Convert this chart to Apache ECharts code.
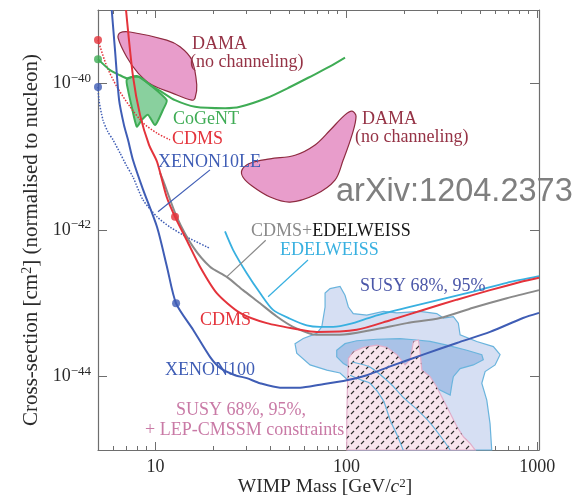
<!DOCTYPE html>
<html lang="en">
<head>
<meta charset="UTF-8" />
<title>WIMP limits</title>
<script src="https://cdn.jsdelivr.net/npm/echarts@6/dist/echarts.min.js"></script>
<style>
  * { padding: 0; margin: 0; }
  body { background: #fff; }
</style>
</head>
<body>
<div id="main" style="width:572px;height:496px"></div>
<script>
// every point is [WIMP mass in GeV/c^2, log10 of cross-section in cm^2]
var cdmsLimit = [[7.01,-39.00],[7.63,-39.91],[8.30,-40.43],[9.25,-40.84],[10.19,-41.07],[11.45,-41.55],[12.66,-41.82],[14.59,-42.14],[17.11,-42.50],[20.94,-42.86],[27.72,-43.13],[38.27,-43.27],[57.18,-43.36],[69.9,-43.39],[113.3,-43.36],[169.4,-43.23],[252.2,-43.09],[378.8,-42.95],[565.2,-42.82],[841.4,-42.70],[1020,-42.65]]
var cdmsLowE = [[5.0,-39.41],[5.58,-39.78],[6.29,-40.05],[7.36,-40.32],[8.61,-40.54],[10.19,-40.68],[11.92,-40.77]]
var cogentLimit = [[5.0,-39.67],[5.78,-39.82],[6.52,-39.89],[7.10,-39.93],[7.63,-39.91],[8.11,-39.91],[9.36,-40.02],[10.82,-40.12],[12.66,-40.23],[16.12,-40.32],[23.13,-40.34],[27.72,-40.32],[38.27,-40.20],[50.69,-40.05],[66.85,-39.89],[82.07,-39.77],[98.31,-39.65]]
var cogentRegion = [[7.07,-39.95],[7.98,-39.90],[9.36,-40.02],[11.45,-40.23],[10.95,-40.36],[9.95,-40.57],[9.14,-40.43],[8.47,-40.50],[7.98,-40.59],[7.51,-40.32],[7.18,-40.09]]
var damaLow = [[6.52,-39.31],[7.36,-39.30],[11.45,-39.41],[13.45,-39.50],[15.49,-39.68],[16.45,-40.02],[16.12,-40.20],[15.49,-40.23],[12.16,-40.13],[9.56,-40.02],[8.11,-39.86],[7.07,-39.64],[6.37,-39.38]]
var damaHigh = [[28.4,-41.18],[31.27,-41.09],[39.84,-41.03],[53.80,-40.98],[68.50,-40.84],[82.07,-40.64],[98.31,-40.43],[107.1,-40.38],[112.3,-40.45],[107.1,-40.70],[96.07,-41.05],[87.1,-41.32],[68.50,-41.52],[50.69,-41.62],[39.84,-41.55],[32.06,-41.40],[28.74,-41.28]]
var xenon10LE = [[5.0,-40.05],[5.06,-40.23],[5.31,-40.50],[5.63,-40.66],[5.99,-40.77],[6.52,-40.95],[7.01,-41.11],[7.63,-41.28],[8.61,-41.59],[10.19,-41.82],[11.92,-41.96],[14.7,-42.10],[19.30,-42.25]]
var xenon100 = [[5.90,-39.00],[6.14,-39.55],[6.45,-40.23],[6.84,-40.57],[7.18,-40.77],[7.63,-41.05],[8.61,-41.45],[10.19,-41.96],[11.48,-42.50],[12.82,-43.00],[15.74,-43.36],[19.30,-43.73],[21.8,-43.88],[26.1,-43.98],[30.06,-44.02],[35.30,-44.09],[44.92,-44.15],[57.18,-44.15],[72.77,-44.11],[100.4,-44.05],[127.9,-43.98],[169.4,-43.86],[252.2,-43.70],[378.8,-43.54],[565.2,-43.39],[841.4,-43.20],[1020,-43.13]]
var cdmsEdelweiss = [[10.56,-41.22],[10.95,-41.32],[12.92,-41.82],[15.74,-42.23],[19.30,-42.50],[23.61,-42.64],[28.74,-42.82],[35.30,-43.00],[43.18,-43.18],[52.53,-43.32],[69.91,-43.43],[92.61,-43.43],[138.0,-43.36],[207.2,-43.27],[309.4,-43.20],[460.5,-43.06],[691.8,-42.93],[1020,-42.82]]
var edelweiss = [[23.13,-42.02],[25.48,-42.27],[30.06,-42.59],[35.30,-42.86],[41.30,-43.09],[50.69,-43.21],[61.99,-43.30],[72.77,-43.32],[85.16,-43.32],[104.5,-43.28],[138.0,-43.18],[207.2,-43.06],[309.4,-42.95],[460.5,-42.84],[691.8,-42.72],[1020,-42.63]]
var susy95 = [[53.80,-43.55],[59.4,-43.48],[69.91,-43.41],[74.3,-43.32],[77.3,-43.05],[77.3,-42.86],[82.07,-42.80],[92.61,-42.77],[98.31,-42.89],[102.4,-43.05],[108.6,-43.14],[127.9,-43.16],[156.3,-43.11],[183.6,-43.13],[243.0,-43.11],[297.2,-43.14],[322,-43.20],[363,-43.18],[385.5,-43.27],[393.9,-43.43],[481.6,-43.52],[588.4,-43.59],[637.8,-43.70],[600.8,-43.84],[532.6,-43.93],[511.6,-44.09],[543.4,-44.32],[565.2,-44.64],[576.8,-45.0],[102.0,-45.0],[102.0,-44.05],[92.61,-43.95],[78.95,-43.91],[64.51,-43.84],[54.93,-43.68]]
var susy68 = [[88.97,-43.64],[98.31,-43.55],[113.3,-43.51],[144.3,-43.49],[190.8,-43.48],[233.5,-43.50],[274.3,-43.52],[335.8,-43.57],[427.2,-43.64],[511.6,-43.70],[521,-43.77],[462,-43.84],[393.9,-43.89],[363,-44.00],[356.5,-44.11],[349.5,-44.25],[243.0,-44.05],[150.1,-43.94],[104.5,-43.87],[96.4,-43.82],[88.97,-43.73]]
var susyLep = [[100.4,-45.0],[100.4,-44.59],[101.2,-44.14],[102.4,-43.75],[108.6,-43.66],[122.7,-43.60],[144.3,-43.57],[162.6,-43.60],[183.6,-43.70],[202.9,-43.84],[215.5,-43.77],[224.5,-43.52],[238.5,-43.50],[243.0,-43.66],[248.3,-43.91],[274.3,-44.00],[297.2,-44.14],[322,-44.32],[349.5,-44.50],[378.8,-44.68],[410,-44.82],[444.4,-44.91],[472,-45.0]]
var contourA = [[107.1,-43.80],[133.0,-43.87],[169.4,-44.09],[198.2,-44.28],[234.5,-44.45],[274.3,-44.63],[320.9,-44.86],[349.5,-45.0]]
var contourB = [[104.5,-43.98],[120.7,-44.05],[133.0,-44.09],[155.6,-44.32],[169.4,-44.59],[184.5,-44.80],[198.2,-45.0]]
var pointerXenon10 = [[19.30,-41.18],[10.31,-41.75]]
var pointerCdmsEdel = [[37.79,-42.14],[23.61,-42.64]]
var pointerEdel = [[62.9,-42.41],[38.88,-42.91]]
var cdmsDots = [[5,-39.41],[12.66,-41.82]]
var cogentDots = [[5,-39.67]]
var xenonDots = [[5,-40.05],[12.82,-43.00]]

var xMinorTicks = [5,6,7,8,9,10,20,30,40,50,60,70,80,90,100,200,300,400,500,600,700,800,900,1000]
var xMajorTicks = [10,100,1000]
var yMajorTicks = [-40,-42,-44]   // exponents of 10 cm^2

var SERIF = '"Liberation Serif", "DejaVu Serif", serif'
var AX = '#6e6e6e'
var RED = '#e4333b', GREEN = '#3fac55', BLUE = '#3f5db5', LBLUE = '#38b0e0', GRAY = '#8a8a8a'
var DAMA_TXT = '#953245', PINK_TXT = '#c97aa6', SUSY_TXT = '#4a56a8'

function lineSeries(arr, color, width, type, smooth) {
  return {
    type: 'line', data: arr, symbol: 'none', silent: true, z: 5,
    smooth: smooth === undefined ? 0.25 : smooth,
    lineStyle: { color: color, width: width, type: type || 'solid' }
  }
}

function areaSeries(arr, style, smooth, z, extra) {
  return {
    type: 'custom', silent: true, z: z, data: arr, clip: false,
    renderItem: function (params, api) {
      if (params.dataIndex !== 0) return null
      var px = arr.map(function (p) { return api.coord(p) })
      var shape = { type: 'polygon', shape: { points: px, smooth: smooth }, style: style }
      if (!extra) return shape
      return { type: 'group', children: [shape, { type: 'polygon', shape: { points: px, smooth: smooth }, style: extra }] }
    }
  }
}

function dotSeries(arr, color) {
  return { type: 'scatter', data: arr, symbolSize: 8, clip: false, silent: true, z: 10, itemStyle: { color: color } }
}

function label(txt, x, y, color) {
  return { type: 'text', x: x, y: y, z: 100, silent: true,
    style: { text: txt, fill: color, fontSize: 18, fontFamily: SERIF, textVerticalAlign: 'middle' } }
}

// little dashes for the hatched SUSY + LEP region
var hatch = document.createElement('canvas')
hatch.width = 10; hatch.height = 10
var hc = hatch.getContext('2d')
hc.strokeStyle = '#2a2a2a'; hc.lineWidth = 1.1
hc.beginPath(); hc.moveTo(1, 4); hc.lineTo(4, 1); hc.moveTo(6, 9); hc.lineTo(9, 6); hc.stroke()

var supRich = function (size, sup, padTop) {
  return {
    a: { fontSize: size, fontFamily: SERIF, color: '#2a2a2a', fill: '#2a2a2a', lineHeight: size, padding: [padTop, 0, 0, 0], verticalAlign: 'bottom' },
    b: { fontSize: sup, fontFamily: SERIF, color: '#2a2a2a', fill: '#2a2a2a', lineHeight: sup, verticalAlign: 'top' },
    i: { fontSize: size, fontFamily: SERIF, fontStyle: 'italic', color: '#2a2a2a', fill: '#2a2a2a', lineHeight: size, padding: [padTop, 0, 0, 0], verticalAlign: 'bottom' }
  }
}

var logX = { type: 'log', min: 5, max: 1020, splitLine: { show: false } }
var expY = { type: 'value', min: -45, max: -39, splitLine: { show: false } }

var option = {
  animation: false,
  backgroundColor: '#fff',
  textStyle: { fontFamily: SERIF },
  grid: { left: 98, top: 10, width: 441, height: 440 },
  xAxis: [
    Object.assign({}, logX, {
      position: 'bottom',
      axisLine: { show: true, onZero: false, lineStyle: { color: AX, width: 1.2 } },
      axisTick: { show: true, inside: true, length: 4, customValues: xMinorTicks, lineStyle: { color: AX } },
      axisLabel: { customValues: xMajorTicks, fontFamily: SERIF, fontSize: 18, color: '#2a2a2a', margin: 8,
        formatter: function (v) { return String(Math.round(v)) } }
    }),
    Object.assign({}, logX, {
      position: 'bottom', axisLine: { show: false },
      axisTick: { show: true, inside: true, length: 8, customValues: xMajorTicks, lineStyle: { color: AX } },
      axisLabel: { show: false }
    }),
    Object.assign({}, logX, {
      position: 'top',
      axisLine: { show: true, onZero: false, lineStyle: { color: AX, width: 1.2 } },
      axisTick: { show: true, inside: true, length: 4, customValues: xMinorTicks, lineStyle: { color: AX } },
      axisLabel: { show: false }
    }),
    Object.assign({}, logX, {
      position: 'top', axisLine: { show: false },
      axisTick: { show: true, inside: true, length: 8, customValues: xMajorTicks, lineStyle: { color: AX } },
      axisLabel: { show: false }
    })
  ],
  yAxis: [
    Object.assign({}, expY, {
      position: 'left',
      axisLine: { show: true, onZero: false, lineStyle: { color: AX, width: 1.2 } },
      axisTick: { show: true, inside: true, length: 9, customValues: yMajorTicks, lineStyle: { color: AX } },
      axisLabel: { customValues: yMajorTicks, margin: 7,
        rich: {
          a: { fontSize: 18, fontFamily: SERIF, color: '#2a2a2a', lineHeight: 18 },
          b: { fontSize: 13, fontFamily: SERIF, color: '#2a2a2a', lineHeight: 13, padding: [0, 0, 10, 0] }
        },
        formatter: function (v) {
          var e = Math.round(v)
          return '{a|10}{b|' + (e < 0 ? '\u2212' : '') + Math.abs(e) + '}'
        } }
    }),
    Object.assign({}, expY, {
      position: 'right',
      axisLine: { show: true, onZero: false, lineStyle: { color: AX, width: 1.2 } },
      axisTick: { show: true, inside: true, length: 9, customValues: yMajorTicks, lineStyle: { color: AX } },
      axisLabel: { show: false }
    })
  ],
  series: [
    areaSeries(susy95, { fill: '#d6dff3', stroke: '#6ab4dd', lineWidth: 1.2 }, 0, 1),
    areaSeries(susy68, { fill: '#a9c2e7', stroke: '#6ab4dd', lineWidth: 1.2 }, 0, 1),
    areaSeries(susyLep, { fill: '#f7e4ed', stroke: '#e2afcb', lineWidth: 1.2 }, 0, 2,
      { fill: { type: 'pattern', image: hatch, repeat: 'repeat' } }),
    lineSeries(contourA, '#6ab4dd', 1.2),
    lineSeries(contourB, '#6ab4dd', 1.2),
    areaSeries(damaLow, { fill: '#e89dcb', stroke: '#8e2b40', lineWidth: 1.2 }, 0.35, 3),
    areaSeries(damaHigh, { fill: '#e89dcb', stroke: '#8e2b40', lineWidth: 1.2 }, 0.35, 3),
    areaSeries(cogentRegion, { fill: 'rgba(108,196,134,0.8)', stroke: GREEN, lineWidth: 2 }, 0.2, 3),
    lineSeries(xenon10LE, BLUE, 1.5, 'dotted'),
    lineSeries(cdmsLowE, RED, 1.5, 'dotted'),
    lineSeries(cogentLimit, GREEN, 2),
    lineSeries(xenon100, BLUE, 2),
    lineSeries(edelweiss, LBLUE, 1.8),
    lineSeries(cdmsEdelweiss, GRAY, 2),
    lineSeries(cdmsLimit, RED, 2),
    lineSeries(pointerXenon10, BLUE, 1.2, 'solid', false),
    lineSeries(pointerCdmsEdel, GRAY, 1.2, 'solid', false),
    lineSeries(pointerEdel, LBLUE, 1.2, 'solid', false),
    dotSeries(cdmsDots, RED),
    dotSeries(cogentDots, GREEN),
    dotSeries(xenonDots, BLUE)
  ],
  graphic: [
    label('DAMA', 192, 44, DAMA_TXT),
    label('(no channeling)', 190, 62, DAMA_TXT),
    label('DAMA', 362, 119, DAMA_TXT),
    label('(no channeling)', 355, 137, DAMA_TXT),
    label('CoGeNT', 173, 119, GREEN),
    label('CDMS', 172, 139, RED),
    label('XENON10LE', 158, 162, BLUE),
    { type: 'text', x: 251, y: 231, z: 100, silent: true,
      style: { text: '{g|CDMS+}{k|EDELWEISS}', textVerticalAlign: 'middle', fontSize: 18, fontFamily: SERIF,
        rich: { g: { fill: GRAY, fontSize: 18, fontFamily: SERIF }, k: { fill: '#161616', fontSize: 18, fontFamily: SERIF } } } },
    label('EDELWEISS', 280, 250, LBLUE),
    label('SUSY 68%, 95%', 360, 286, SUSY_TXT),
    label('CDMS', 200, 320, RED),
    label('XENON100', 165, 370, BLUE),
    label('SUSY 68%, 95%,', 176, 410, PINK_TXT),
    label('+ LEP-CMSSM constraints', 145, 430, PINK_TXT),
    { type: 'text', x: 336, y: 192, z: 110, silent: true,
      style: { text: 'arXiv:1204.2373', fill: '#7f7f7f', fontSize: 32.5, fontFamily: '"Liberation Sans", Arial, sans-serif', textVerticalAlign: 'middle' } },
    { type: 'text', x: 325, y: 487, z: 100, silent: true,
      style: { text: '{a|WIMP Mass [GeV/}{i|c}{b|2}{a|]}', textAlign: 'center', textVerticalAlign: 'middle', rich: supRich(19.5, 13, 4) } },
    { type: 'text', x: 31, y: 240, rotation: Math.PI / 2, z: 100, silent: true,
      style: { text: '{a|Cross-section [cm}{b|2}{a|] (normalised to nucleon)}', textAlign: 'center', textVerticalAlign: 'middle', rich: supRich(21, 14, 4) } }
  ]
}

var chart = echarts.init(document.getElementById('main'))
chart.setOption(option)
</script>
</body>
</html>
